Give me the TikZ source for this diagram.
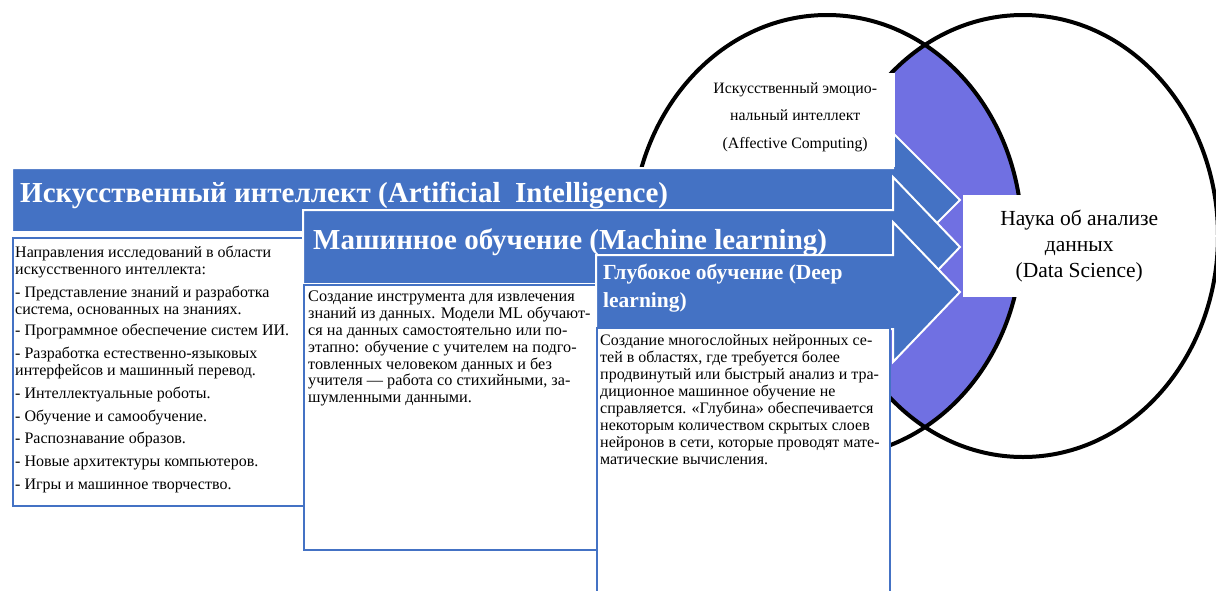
\documentclass[tikz,border=0pt]{standalone}
\usepackage{fontspec}
\setmainfont{Liberation Serif}
\usetikzlibrary{positioning}

\definecolor{arrowblue}{HTML}{4472C4}
\definecolor{lensviolet}{HTML}{7070E2}

\begin{document}
\begin{tikzpicture}[x=1pt, y=-1pt,
  arrowshape/.style={fill=arrowblue, draw=white, line width=2pt, line join=miter},
  frame/.style={draw=arrowblue, line width=2pt, fill=white, inner sep=0pt, anchor=north west},
  bodytext/.style={inner sep=0pt, anchor=north west, align=left, font=\fontsize{16.2}{16.8}\selectfont},
  titletext/.style={inner sep=0pt, anchor=west, text=white, font=\bfseries\fontsize{29}{32}\selectfont},
  whitebox/.style={fill=white, inner sep=0pt, anchor=north west},
]

  \useasboundingbox (0,0) rectangle (1216,590);

  % Ellipse sizes
  \pgfmathsetmacro{\rx}{195}
  \pgfmathsetmacro{\ry}{221}

  % === Two ellipses with violet overlap ===
  \begin{scope}
    \clip (827,236) ellipse [x radius=\rx pt, y radius=\ry pt];
    \fill[lensviolet] (1023,236) ellipse [x radius=\rx pt, y radius=\ry pt];
  \end{scope}
  \draw[line width=4pt] (827,236) ellipse [x radius=\rx pt, y radius=\ry pt];
  \draw[line width=4pt] (1023,236) ellipse [x radius=\rx pt, y radius=\ry pt];

  % === Arrow 1: artificial intelligence ===
  \filldraw[arrowshape] (12,168) -- (893,168) -- (893,133) -- (960,200)
    -- (893,267) -- (893,232) -- (12,232) -- cycle;
  \node[titletext] (aititle) at (20,195) {Искусственный интеллект (Artificial\enspace Intelligence)};
  \node[frame, minimum width=293pt, minimum height=268pt] (aibox) at (12,237) {};
  \node[bodytext, font=\fontsize{16}{17.2}\selectfont] (aitext) at ([shift={(3,9)}]aibox.north west) {%
    Направления исследований в области\\
    искусственного интеллекта:\\[5.5pt]
    - Представление знаний и разработка\\
    система, основанных на знаниях.\\[4pt]
    - Программное обеспечение систем ИИ.\\[5.5pt]
    - Разработка естественно-языковых\\
    интерфейсов и машинный перевод.\\[5.5pt]
    - Интеллектуальные роботы.\\[5.5pt]
    - Обучение и самообучение.\\[5.5pt]
    - Распознавание образов.\\[5.5pt]
    - Новые архитектуры компьютеров.\\[5.5pt]
    - Игры и машинное творчество.};

  % === Arrow 2: machine learning ===
  \filldraw[arrowshape] (303,210) -- (893,210) -- (893,177) -- (960,247)
    -- (893,317) -- (893,284) -- (303,284) -- cycle;
  \node[titletext] (mltitle) at (313,242) {Машинное обучение (Machine learning)};
  \node[frame, minimum width=294pt, minimum height=265pt] (mlbox) at (303,284) {};
  \node[bodytext] (mltext) at ([shift={(5,7)}]mlbox.north west) {%
    Создание инструмента для извлечения\\
    знаний из данных. Модели ML обучают-\\
    ся на данных самостоятельно или по-\\
    этапно: обучение с учителем на подго-\\
    товленных человеком данных и без\\
    учителя — работа со стихийными, за-\\
    шумленными данными.};

  % === Arrow 3: deep learning ===
  \filldraw[arrowshape] (596,255) -- (893,255) -- (893,222) -- (960,292)
    -- (893,362) -- (893,329) -- (596,329) -- cycle;
  \node[titletext, anchor=north west, align=left, font=\bfseries\fontsize{21.5}{28}\selectfont]
    (dltitle) at (603,264) {Глубокое обучение (Deep\\learning)};
  \node[frame, minimum width=293pt, minimum height=265pt] (dlbox) at (596,327) {};
  \node[bodytext, font=\fontsize{16}{17}\selectfont] (dltext) at ([shift={(4,7)}]dlbox.north west) {%
    Создание многослойных нейронных се-\\
    тей в областях, где требуется более\\
    продвинутый или быстрый анализ и тра-\\
    диционное машинное обучение не\\
    справляется. «Глубина» обеспечивается\\
    некоторым количеством скрытых слоев\\
    нейронов в сети, которые проводят мате-\\
    матические вычисления.};

  % === Labels over the ellipses ===
  \node[whitebox, minimum width=190pt, minimum height=94pt] (acbox) at (705,73) {};
  \node[align=center, font=\fontsize{15.8}{27.3}\selectfont] (aclabel) at ([shift={(-5pt,3pt)}]acbox.center)
    {Искусственный эмоцио-\\нальный интеллект\\(Affective Computing)};

  \node[whitebox, minimum width=228pt, minimum height=102pt] (dsbox) at (963,195) {};
  \node[align=center, font=\fontsize{21.5}{26}\selectfont] (dslabel) at ([xshift=2pt]dsbox.center)
    {Наука об анализе\\данных\\(Data Science)};

\end{tikzpicture}
\end{document}
